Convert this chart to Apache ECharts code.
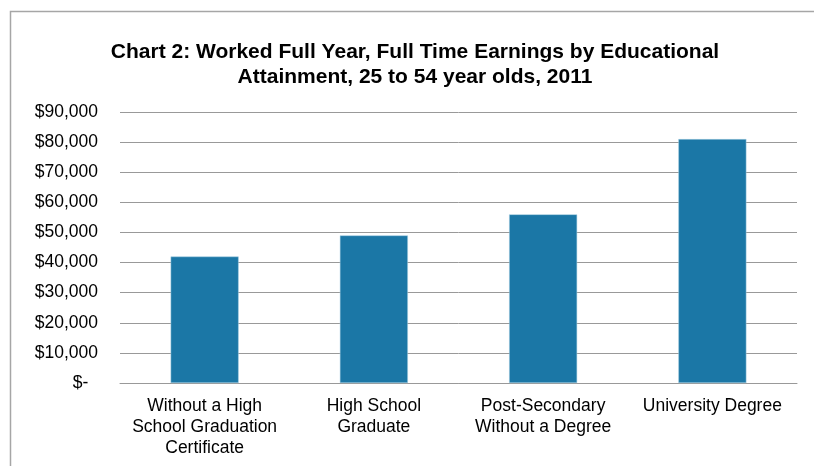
<!DOCTYPE html>
<html><head><meta charset="utf-8">
<script src="https://cdn.jsdelivr.net/npm/echarts@6/dist/echarts.min.js"></script>
<style>html,body{margin:0;padding:0;background:#fff}#c{width:814px;height:466px}</style>
</head><body><div id="c"></div>
<script>
const categories = ["Without a High\nSchool Graduation\nCertificate", "High School\nGraduate", "Post-Secondary\nWithout a Degree", "University Degree"];
const earnings = [42000, 49000, 56000, 81000];
const titleText = "Chart 2: Worked Full Year, Full Time Earnings by Educational\nAttainment, 25 to 54 year olds, 2011";

const chart = echarts.init(document.getElementById('c'), null, {renderer: 'canvas'});
chart.setOption({
  animation: false,
  backgroundColor: '#fff',
  graphic: [{
    type: 'rect', left: 8, top: 9, shape: {width: 830, height: 480},
    style: {fill: 'none', stroke: '#a6a6a6', lineWidth: 1.5}, silent: true
  }],
  title: {
    text: titleText, left: 410, top: 35, textAlign: 'center',
    textStyle: {fontFamily: 'Liberation Sans', fontSize: 21, fontWeight: 'bold', color: '#000', lineHeight: 25}
  },
  grid: {left: 120, right: 17, top: 112, bottom: 83, containLabel: false},
  xAxis: {
    type: 'category', data: categories,
    axisLine: {lineStyle: {color: '#999', width: 1}},
    axisTick: {show: false},
    axisLabel: {fontFamily: 'Liberation Sans', fontSize: 17.5, color: '#000', lineHeight: 21, margin: 13, interval: 0}
  },
  yAxis: {
    type: 'value', min: 0, max: 90000, interval: 10000,
    axisLine: {show: false}, axisTick: {show: false},
    splitLine: {lineStyle: {color: '#999', width: 1}},
    axisLabel: {
      fontFamily: 'Liberation Sans', fontSize: 17.5, color: '#000', margin: 22,
      formatter: v => v === 0 ? '$-  ' : '$' + v.toLocaleString('en-US')
    }
  },
  series: [{
    type: 'bar', data: earnings, barWidth: 68,
    itemStyle: {color: '#1b77a6', borderColor: '#a9cfe3', borderWidth: 0.5}
  }]
});
</script></body></html>
